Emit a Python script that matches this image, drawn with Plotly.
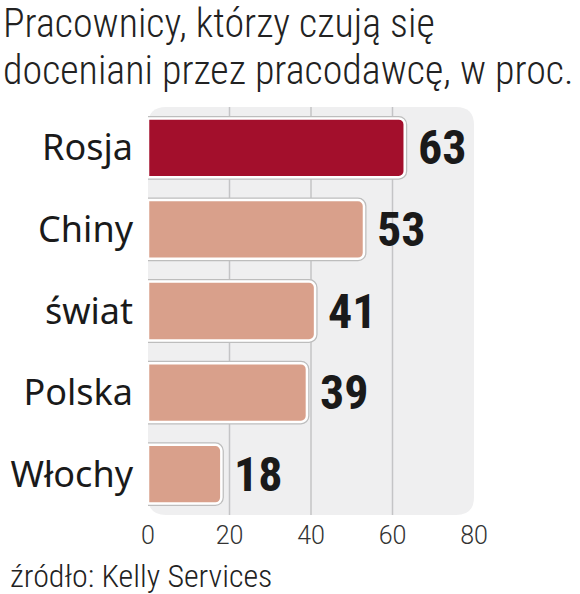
import plotly.graph_objects as go

categories = ["Rosja", "Chiny", "świat", "Polska", "Włochy"]
values = [63, 53, 41, 39, 18]
bar_colors = ["#A30F2C", "#D9A08B", "#D9A08B", "#D9A08B", "#D9A08B"]
x_ticks = [0, 20, 40, 60, 80]
grid_vals = [20, 40, 60]
title_lines = ["Pracownicy, którzy czują się", "doceniani przez pracodawcę, w proc."]
source_text = "źródło: Kelly Services"

W, H = 580, 594
L, R, T, B = 148, 106, 107, 79
PW, PH = W - L - R, H - T - B
XMAX = 80
LIGHT = "Roboto Condensed, Roboto, sans-serif"
COND_BOLD = "Roboto Condensed, DejaVu Sans Condensed, Roboto, sans-serif"


def px_x(px):
    return (px - L) / PW


def px_y(py):
    return 1 + (T - py) / PH


fig = go.Figure()

# soft outline behind each bar
fig.add_trace(go.Bar(
    x=values, y=categories, orientation="h", width=0.72,
    marker=dict(color="rgba(0,0,0,0)", line=dict(color="#BDBDBD", width=5)),
    hoverinfo="skip", showlegend=False,
))
fig.add_trace(go.Bar(
    x=values, y=categories, orientation="h", width=0.72,
    marker=dict(color=bar_colors, line=dict(color="white", width=2.5)),
    showlegend=False,
))

for c, v in zip(categories, values):
    fig.add_annotation(
        x=v, y=c, xref="x", yref="y", text=str(v), showarrow=False,
        xanchor="left", yanchor="middle", xshift=11,
        font=dict(family=COND_BOLD, size=48, color="#1a1a1a", weight="bold"),
    )

# rounded background panel (paper y, data x)
rx = 4.4
ry = 18 / PH
panel = (f"M {rx},1 L {XMAX-rx},1 Q {XMAX},1 {XMAX},{1-ry} "
         f"L {XMAX},{ry} Q {XMAX},0 {XMAX-rx},0 L {rx},0 Q 0,0 0,{ry} "
         f"L 0,{1-ry} Q 0,1 {rx},1 Z")
shapes = [dict(type="path", path=panel, xref="x", yref="paper",
               fillcolor="#EFEFF0", line=dict(width=0), layer="below")]
for g in grid_vals:
    shapes.append(dict(type="line", x0=g, x1=g, y0=0, y1=1, xref="x", yref="paper",
                       line=dict(color="#C4C4C6", width=1.5), layer="below"))

title_size = 40
for i, line in enumerate(title_lines):
    baseline = 39 + 47 * i
    fig.add_annotation(
        text=line, xref="paper", yref="paper",
        x=px_x(1), y=px_y(baseline - 0.41 * title_size + 1),
        xanchor="left", yanchor="middle", align="left", showarrow=False,
        font=dict(family=LIGHT, size=title_size, color="#222222", weight=300),
    )

src_size = 32
fig.add_annotation(
    text=source_text, xref="paper", yref="paper",
    x=px_x(8), y=px_y(588 - 0.41 * src_size + 1),
    xanchor="left", yanchor="middle", align="left", showarrow=False,
    font=dict(family=LIGHT, size=src_size, color="#222222", weight=300),
)

fig.update_layout(
    width=W, height=H,
    margin=dict(l=L, r=R, t=T, b=B, autoexpand=False),
    paper_bgcolor="white", plot_bgcolor="rgba(0,0,0,0)",
    barmode="overlay", barcornerradius=6,
    shapes=shapes,
    xaxis=dict(range=[0, XMAX], tickvals=x_ticks, ticktext=[str(t) for t in x_ticks],
               showgrid=False, zeroline=False, showline=False, automargin=False,
               ticks="", ticklabelstandoff=3,
               tickfont=dict(family="Roboto, sans-serif", size=25, color="#333333", weight=300)),
    yaxis=dict(categoryorder="array", categoryarray=categories, autorange="reversed",
               showgrid=False, zeroline=False, showline=False, ticks="", automargin=False,
               ticklabelstandoff=14,
               tickfont=dict(family="Noto Sans", size=36, color="#1a1a1a")),
)

fig.write_html("out.html", config={"displayModeBar": False},
               post_script="document.body.style.margin='0px';")
